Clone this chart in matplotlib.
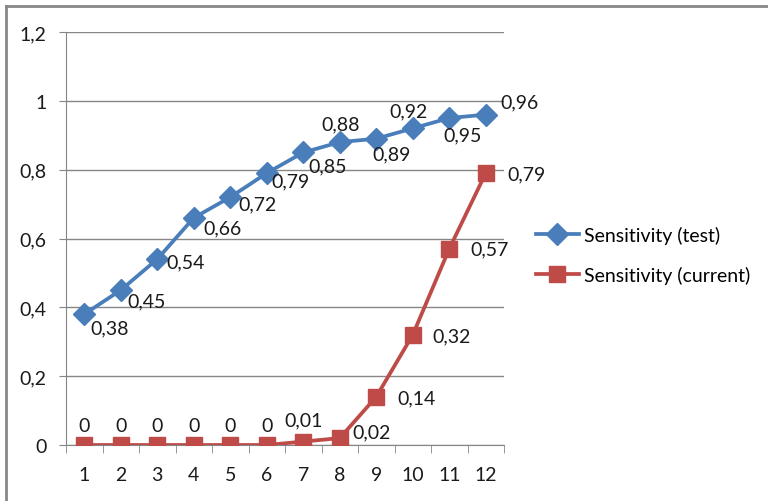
import matplotlib
matplotlib.use("Agg")
import matplotlib.pyplot as plt
from matplotlib.lines import Line2D

plt.rcParams['font.family'] = ['Lato', 'DejaVu Sans']

categories = [1, 2, 3, 4, 5, 6, 7, 8, 9, 10, 11, 12]
sens_test = [0.38, 0.45, 0.54, 0.66, 0.72, 0.79, 0.85, 0.88, 0.89, 0.92, 0.95, 0.96]
sens_current = [0, 0, 0, 0, 0, 0, 0.01, 0.02, 0.14, 0.32, 0.57, 0.79]
series_names = ["Sensitivity (test)", "Sensitivity (current)"]
y_ticks = [0, 0.2, 0.4, 0.6, 0.8, 1.0, 1.2]

# label offsets in pixels (dx, dy) for each point
test_offsets = [(25, -14), (26, -11), (28, -3), (29, -10), (27, -7), (24, -8),
                (24, -13), (1, 18), (15, -15), (-4, 17), (13, -17), (34, 13)]
current_offsets = [(0, 19)] * 6 + [(0, 22), (32, 6), (40, -1), (39, -1), (40, 0), (41, -1)]

BLUE = '#4A7EBB'
RED = '#BE4B48'
GRID = '#868686'
FS = 14

def fmt(v):
    s = f"{v:g}"
    return s.replace('.', ',')

W, H = 768, 502
fig = plt.figure(figsize=(W / 100, H / 100), dpi=100)
ax = fig.add_axes([66 / W, (H - 446) / H, (504 - 66) / W, (446 - 33) / H])

ax.plot(categories, sens_test, color=BLUE, lw=2.7, marker='D', ms=11,
        label=series_names[0], zorder=3)
ax.plot(categories, sens_current, color=RED, lw=2.7, marker='s', ms=12,
        label=series_names[1], zorder=3)

for x, v, (dx, dy) in zip(categories, sens_test, test_offsets):
    ax.annotate(fmt(v), (x, v), xytext=(dx, dy), textcoords='offset pixels',
                ha='center', va='center', fontsize=FS, color='#1a1a1a', zorder=4)
for x, v, (dx, dy) in zip(categories, sens_current, current_offsets):
    ax.annotate(fmt(v), (x, v), xytext=(dx, dy), textcoords='offset pixels',
                ha='center', va='center', fontsize=FS, color='#1a1a1a', zorder=4)

ax.set_xlim(0.5, 12.5)
ax.set_ylim(0, 1.2)
ax.set_yticks(y_ticks)
ax.set_yticklabels([fmt(v) for v in y_ticks])
ax.set_xticks(categories)
ax.set_xticklabels([str(c) for c in categories])
ax.set_xticks([c + 0.5 for c in [0] + categories], minor=True)

ax.yaxis.grid(True, color=GRID, lw=1.0)
ax.set_axisbelow(True)
for side in ['top', 'right']:
    ax.spines[side].set_visible(False)
ax.spines['left'].set_color(GRID)
ax.spines['bottom'].set_color(GRID)
ax.tick_params(axis='y', length=5, color=GRID, pad=9, labelsize=FS, labelcolor='#1a1a1a')
ax.tick_params(axis='x', which='major', length=0, pad=15, labelsize=FS, labelcolor='#1a1a1a')
ax.tick_params(axis='x', which='minor', length=6, color=GRID)

leg = ax.legend(loc='center left', bbox_to_anchor=(536 / W, (H - 256) / H),
                bbox_transform=fig.transFigure, frameon=False, fontsize=FS,
                handlelength=2.2, handletextpad=0.25, labelspacing=1.15,
                borderaxespad=0, borderpad=0)

# outer chart frame (top and left edges)
fig.add_artist(Line2D([6 / W, 1], [1 - 6.5 / H, 1 - 6.5 / H], transform=fig.transFigure,
                      color='#888888', lw=2))
fig.add_artist(Line2D([6 / W, 6 / W], [0, 1 - 6.5 / H], transform=fig.transFigure,
                      color='#888888', lw=2))

fig.savefig('out.png', dpi=100)
